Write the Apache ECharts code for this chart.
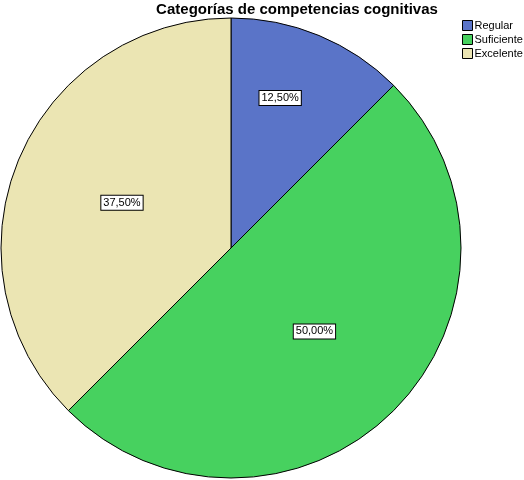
<!DOCTYPE html>
<html><head><meta charset="utf-8">
<script src="https://cdn.jsdelivr.net/npm/echarts@6/dist/echarts.min.js"></script>
<style>html,body{margin:0;padding:0;background:#fff}#c{width:524px;height:480px}</style>
</head><body><div id="c"></div>
<script>
const categories = ['Regular', 'Suficiente', 'Excelente'];
const values = [12.5, 50.0, 37.5];
const colors = ['#5a74c8', '#47d15f', '#ebe5b3'];
const chart = echarts.init(document.getElementById('c'), null, {renderer: 'canvas'});
chart.setOption({
  animation: false,
  backgroundColor: '#fff',
  title: {
    text: 'Categorías de competencias cognitivas',
    left: 297, top: 0, textAlign: 'center', padding: [2, 0, 0, 0],
    textStyle: {fontFamily: 'Liberation Sans', fontSize: 15, fontWeight: 'bold', color: '#000'}
  },
  legend: {
    orient: 'vertical', left: 462, top: 20, padding: 0,
    itemWidth: 10, itemHeight: 10, itemGap: 3,
    icon: 'rect',
    textStyle: {fontFamily: 'Liberation Sans', fontSize: 11, color: '#000', padding: [0,0,0,-3]},
    itemStyle: {borderColor: '#000', borderWidth: 1},
    data: categories
  },
  series: [{
    type: 'pie',
    center: [231, 248], radius: 230,
    startAngle: 90, clockwise: true,
    avoidLabelOverlap: false,
    itemStyle: {borderColor: '#000', borderWidth: 1},
    label: {
      show: true, position: 'inside',
      formatter: p => p.value.toFixed(2).replace('.', ',') + '%',
      fontFamily: 'Liberation Sans', fontSize: 11, color: '#000',
      backgroundColor: '#fff', borderColor: '#000', borderWidth: 1, padding: [2, 2, 1, 2]
    },
    labelLayout: p => p.dataIndex === 0 ? {dx: 4, dy: -41} : {},
    labelLine: {show: false},
    emphasis: {disabled: true},
    data: categories.map((c, i) => ({name: c, value: values[i], itemStyle: {color: colors[i]}}))
  }]
});
</script></body></html>
